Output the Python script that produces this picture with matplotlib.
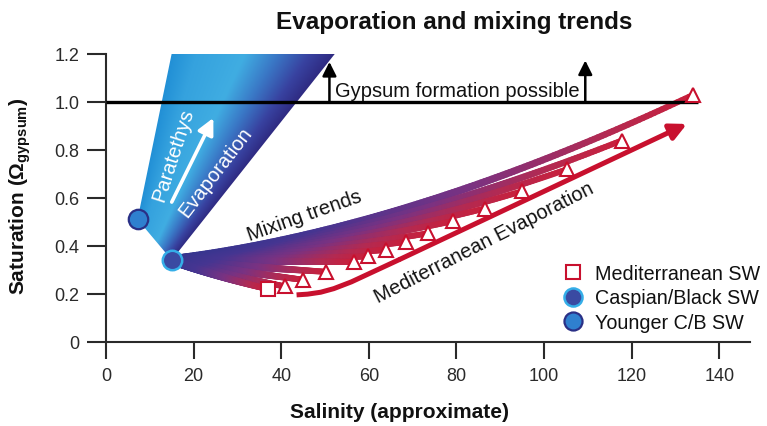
import numpy as np
import matplotlib
matplotlib.use('Agg')
import matplotlib.pyplot as plt
from matplotlib.collections import LineCollection
from matplotlib.colors import LinearSegmentedColormap
from matplotlib.patches import Polygon
from matplotlib.lines import Line2D

plt.rcParams['font.family'] = ['Liberation Sans', 'DejaVu Sans']
plt.rcParams['mathtext.fontset'] = 'custom'
plt.rcParams['mathtext.rm'] = 'Liberation Sans'
plt.rcParams['mathtext.bf'] = 'Liberation Sans:bold'

# ---------------- data ----------------
med_sw_x = [36.9]
med_sw_y = [0.22]
evap_x = [40.9, 45.0, 50.2, 56.5, 59.9, 63.9, 68.4, 73.6, 79.3, 86.4, 95.0, 105.2, 117.7, 133.9]
evap_y = [0.231, 0.259, 0.292, 0.333, 0.356, 0.383, 0.416, 0.452, 0.503, 0.555, 0.627, 0.718, 0.838, 1.027]
caspian_x, caspian_y = [15.0], [0.341]
younger_x, younger_y = [7.2], [0.51]
para_top_x = [15.0, 52.3]          # Paratethys evaporation wedge at the top (y = 1.2)
med_trend_x = [43.5, 46.0, 49.0, 52.0, 56.0, 67.1, 132.6]
med_trend_y = [0.196, 0.199, 0.207, 0.222, 0.250, 0.344, 0.907]
gypsum_level = 1.0
gypsum_line_end = 135.2
gypsum_arrow_x = [51.0, 109.4]
gypsum_arrow_top = [1.165, 1.171]
x_ticks = [0, 20, 40, 60, 80, 100, 120, 140]
y_ticks = [0, 0.2, 0.4, 0.6, 0.8, 1.0, 1.2]
y_tick_labels = ['0', '0.2', '0.4', '0.6', '0.8', '1.0', '1.2']

RED = '#c8102e'

fig = plt.figure(figsize=(7.67, 4.27), dpi=100)
ax = fig.add_axes([106 / 767, 1 - 343 / 427, 644 / 767, 288.5 / 427])

# ---------------- Paratethys wedge with gradient ----------------
ymax = 1.2
wedge = Polygon([(younger_x[0], younger_y[0]), (para_top_x[0], ymax),
                 (para_top_x[1], ymax), (caspian_x[0], caspian_y[0])],
                closed=True, facecolor='none', edgecolor='none', transform=ax.transData)
ax.add_patch(wedge)
yy, xx = np.mgrid[0:ymax:500j, 0:60:500j]
xl = younger_x[0] + (para_top_x[0] - younger_x[0]) * (yy - younger_y[0]) / (ymax - younger_y[0])
xr = caspian_x[0] + (para_top_x[1] - caspian_x[0]) * (yy - caspian_y[0]) / (ymax - caspian_y[0])
f = np.clip((xx - xl) / np.maximum(xr - xl, 1e-6), 0, 1)
cmap_w = LinearSegmentedColormap.from_list('wedge', [
    (0.0, '#2290d6'), (0.15, '#35a2de'), (0.45, '#40ade2'),
    (0.65, '#3a78c6'), (0.85, '#3842a0'), (1.0, '#2f2b82')])
im = ax.imshow(cmap_w(f), extent=(0, 60, 0, ymax), origin='lower', aspect='auto',
               zorder=1, interpolation='bilinear')
im.set_clip_path(wedge)

# ---------------- gypsum saturation line & arrows ----------------
ax.plot([0, gypsum_line_end], [gypsum_level, gypsum_level], color='black', lw=2.4,
        zorder=3, solid_capstyle='butt')
for gx, gt in zip(gypsum_arrow_x, gypsum_arrow_top):
    ax.annotate('', xy=(gx, gt), xytext=(gx, gypsum_level),
                arrowprops=dict(arrowstyle='-|>,head_length=0.6,head_width=0.3',
                                color='black', lw=1.8, mutation_scale=14,
                                shrinkA=0, shrinkB=0), zorder=3)
ax.text(gypsum_arrow_x[0] + 1.2, gypsum_level + 0.025, 'Gypsum formation possible',
        fontsize=14.5, ha='left', va='baseline', color='#111111', zorder=4)

# ---------------- mixing fan ----------------
cmap_fan = LinearSegmentedColormap.from_list('fan', [
    (0.0, '#34358e'), (0.3, '#463591'), (0.6, '#7a3282'), (0.85, '#b32a52'), (1.0, '#c8203c')])
t = np.linspace(0, 1, 150)
targets_x = med_sw_x + evap_x
targets_y = med_sw_y + evap_y
x0, y0 = caspian_x[0], caspian_y[0]
for tx, ty in zip(targets_x[::-1], targets_y[::-1]):
    dx, dy = tx - x0, ty - y0
    k = 0.18 if dy > 0 else 0.55
    cx, cy = x0 + 0.45 * dx, y0 + k * dy
    bx = (1 - t) ** 2 * x0 + 2 * (1 - t) * t * cx + t ** 2 * tx
    by = (1 - t) ** 2 * y0 + 2 * (1 - t) * t * cy + t ** 2 * ty
    pts = np.column_stack([bx, by]).reshape(-1, 1, 2)
    segs = np.concatenate([pts[:-1], pts[1:]], axis=1)
    widths = 7.0 - 2.8 * t[:-1]
    lc = LineCollection(segs, colors=cmap_fan(t[:-1]), linewidths=widths,
                        capstyle='round', zorder=2)
    ax.add_collection(lc)

# ---------------- Mediterranean evaporation trend ----------------
ax.plot(med_trend_x[:-1], med_trend_y[:-1], color=RED, lw=3.6, zorder=3,
        solid_capstyle='butt', solid_joinstyle='round')
ax.annotate('', xy=(med_trend_x[-1], med_trend_y[-1]), xytext=(med_trend_x[-2], med_trend_y[-2]),
            arrowprops=dict(arrowstyle='-|>,head_length=0.7,head_width=0.35', color=RED,
                            lw=3.6, mutation_scale=14, shrinkA=0, shrinkB=0), zorder=3)

# ---------------- markers ----------------
ax.plot(evap_x, evap_y, linestyle='none', marker='^', markersize=10,
        markerfacecolor='white', markeredgecolor=RED, markeredgewidth=1.5, zorder=5)
ax.plot(med_sw_x, med_sw_y, linestyle='none', marker='s', markersize=10.5,
        markerfacecolor='white', markeredgecolor=RED, markeredgewidth=1.5, zorder=5)
ax.plot(younger_x, younger_y, linestyle='none', marker='o', markersize=14,
        markerfacecolor='#2f80cf', markeredgecolor='#2a3086', markeredgewidth=1.6, zorder=6)
ax.plot(caspian_x, caspian_y, linestyle='none', marker='o', markersize=14,
        markerfacecolor='#3a4aa2', markeredgecolor='#35aee8', markeredgewidth=1.8, zorder=6)

# ---------------- annotations ----------------
ax.annotate('', xy=(24.5, 0.932), xytext=(15.0, 0.582),
            arrowprops=dict(arrowstyle='-|>,head_length=0.7,head_width=0.35', color='white',
                            lw=2.6, mutation_scale=14, shrinkA=0, shrinkB=0), zorder=4)
ax.text(15.4, 0.783, 'Paratethys', rotation=72, rotation_mode='anchor', ha='center',
        va='center', color='white', fontsize=14.5, zorder=4)
ax.text(25.1, 0.71, 'Evaporation', rotation=52.6, rotation_mode='anchor', ha='center',
        va='center', color='white', fontsize=14.5, zorder=4)
ax.text(45.2, 0.528, 'Mixing trends', rotation=19.4, rotation_mode='anchor', ha='center',
        va='center', color='#111111', fontsize=14.5, zorder=4)
ax.text(86.3, 0.414, 'Mediterranean Evaporation', rotation=27.1, rotation_mode='anchor',
        ha='center', va='center', color='#111111', fontsize=14.5, zorder=4)

# ---------------- legend ----------------
handles = [
    Line2D([], [], linestyle='none', marker='s', markersize=10, markerfacecolor='white',
           markeredgecolor=RED, markeredgewidth=1.5),
    Line2D([], [], linestyle='none', marker='o', markersize=13, markerfacecolor='#3a4aa2',
           markeredgecolor='#35aee8', markeredgewidth=1.8),
    Line2D([], [], linestyle='none', marker='o', markersize=13, markerfacecolor='#2f80cf',
           markeredgecolor='#2a3086', markeredgewidth=1.6),
]
labels = ['Mediterranean SW', 'Caspian/Black SW', 'Younger C/B SW']
leg = ax.legend(handles, labels, loc='upper left', bbox_to_anchor=(0.71, 0.27),
                frameon=False, fontsize=14.2, handlelength=1.0, handletextpad=0.6,
                borderpad=0, borderaxespad=0, labelspacing=0.27)
for txt in leg.get_texts():
    txt.set_color('#111111')

# ---------------- axes styling ----------------
ax.set_xlim(0, 147)
ax.set_ylim(0, ymax)
for s in ['top', 'right']:
    ax.spines[s].set_visible(False)
for s in ['left', 'bottom']:
    ax.spines[s].set_linewidth(1.5)
    ax.spines[s].set_color('#2a2a2a')
ax.set_xticks(x_ticks)
ax.set_yticks(y_ticks)
ax.set_yticklabels(y_tick_labels)
ax.tick_params(axis='x', direction='out', length=12, width=1.5, pad=6,
               labelsize=13, colors='#2a2a2a')
ax.tick_params(axis='y', direction='out', length=14, width=1.5, pad=5,
               labelsize=13, colors='#2a2a2a')

fig.text(454 / 767, 1 - 22 / 427, 'Evaporation and mixing trends', fontsize=17.5,
         fontweight='bold', ha='center', va='center', color='#111111')
fig.text(400 / 767, 1 - 413 / 427, 'Salinity (approximate)', fontsize=15,
         fontweight='bold', ha='center', va='center', color='#111111')
fig.text(20 / 767, 1 - 196 / 427, r'Saturation ($\mathbf{\Omega}_{\mathbf{gypsum}}$)',
         fontsize=15, fontweight='bold', rotation=90, ha='center', va='center',
         color='#111111')

fig.savefig('out.png', dpi=100)
